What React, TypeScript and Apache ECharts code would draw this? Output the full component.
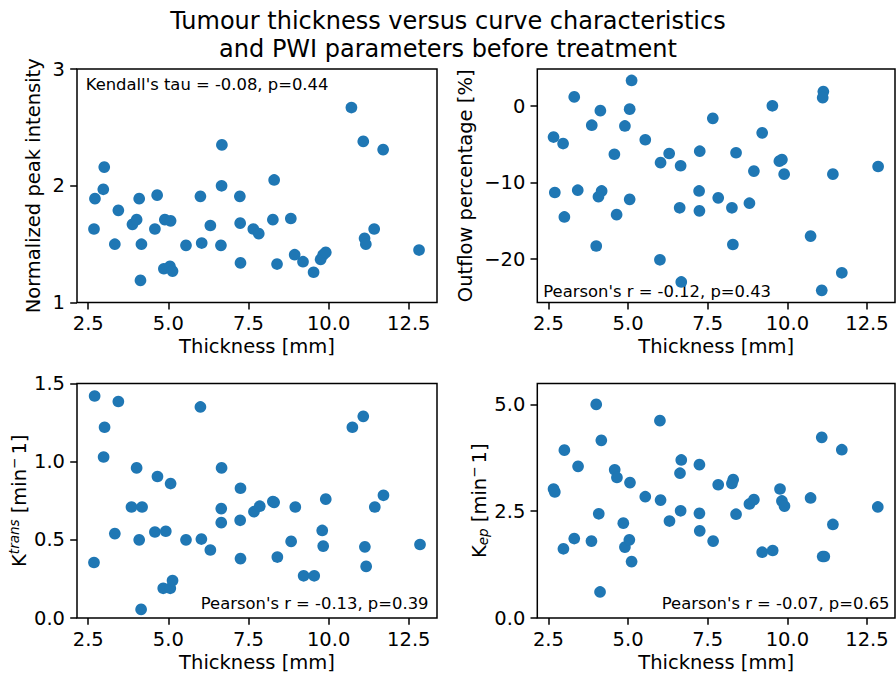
import React, { useEffect, useRef } from "react";
import * as echarts from "echarts";

// ---- data ----
const xTicks = [2.5, 5, 7.5, 10, 12.5];
const xRange = [2.15, 13.38];

const peakX = [10.71, 11.08, 11.7, 6.67, 3.0, 2.97, 2.71, 2.68, 3.44, 4.09, 4.65, 3.88, 4.01, 4.58, 3.33, 4.16, 4.13, 4.89, 5.07, 4.86, 5.05, 5.13, 5.55, 6.0, 6.04, 6.31, 6.66, 6.64, 7.23, 7.24, 7.25, 7.65, 7.82, 8.3, 8.26, 8.39, 8.82, 8.94, 9.2, 9.53, 9.75, 9.83, 9.91, 11.12, 11.16, 11.42, 12.82];
const peakY = [2.67, 2.38, 2.31, 2.35, 2.16, 1.97, 1.89, 1.63, 1.79, 1.89, 1.92, 1.67, 1.71, 1.63, 1.5, 1.5, 1.19, 1.71, 1.7, 1.29, 1.31, 1.27, 1.49, 1.91, 1.51, 1.66, 2.0, 1.49, 1.91, 1.68, 1.34, 1.63, 1.59, 2.05, 1.71, 1.33, 1.72, 1.41, 1.35, 1.26, 1.37, 1.41, 1.43, 1.55, 1.5, 1.63, 1.45];

const outflowX = [5.11, 11.13, 11.11, 3.31, 9.53, 4.13, 5.05, 7.66, 3.86, 4.9, 2.66, 2.96, 9.21, 5.54, 4.57, 6.29, 7.25, 8.39, 6.02, 6.65, 8.95, 9.75, 9.83, 9.9, 11.43, 12.85, 2.7, 3.42, 4.17, 4.07, 5.05, 3.0, 4.64, 6.62, 7.23, 7.24, 7.83, 8.26, 8.81, 4.0, 8.29, 6.0, 6.67, 10.73, 11.71, 11.08];
const outflowY = [3.35, 1.9, 1.1, 1.2, 0.04, -0.6, -0.4, -1.6, -2.5, -2.6, -4.05, -4.9, -3.5, -4.4, -6.3, -6.2, -5.9, -6.1, -7.4, -7.8, -8.5, -7.2, -7.0, -8.9, -8.9, -7.9, -11.3, -11.0, -11.1, -11.85, -12.2, -14.5, -14.2, -13.3, -11.1, -13.7, -12.0, -13.3, -12.7, -18.3, -18.1, -20.1, -23.0, -17.0, -21.8, -24.1];

const ktransX = [2.7, 3.44, 3.01, 2.98, 6.0, 4.01, 4.66, 5.07, 6.66, 7.25, 10.74, 11.08, 3.85, 4.18, 6.65, 6.65, 7.24, 7.67, 7.85, 8.3, 8.96, 9.91, 11.44, 11.71, 3.33, 4.09, 4.58, 4.92, 5.55, 6.03, 6.31, 7.25, 8.4, 8.83, 9.8, 9.83, 11.13, 11.17, 12.85, 2.68, 4.84, 5.06, 5.13, 4.15, 9.22, 9.55, 8.26];
const ktransY = [1.42, 1.385, 1.22, 1.03, 1.35, 0.96, 0.905, 0.86, 0.96, 0.83, 1.22, 1.29, 0.71, 0.71, 0.7, 0.61, 0.625, 0.68, 0.715, 0.74, 0.71, 0.76, 0.71, 0.785, 0.54, 0.5, 0.55, 0.555, 0.5, 0.505, 0.435, 0.38, 0.39, 0.49, 0.56, 0.46, 0.455, 0.33, 0.47, 0.355, 0.19, 0.19, 0.24, 0.055, 0.27, 0.27, 0.745];

const kepX = [4.0, 6.0, 4.16, 11.08, 3.0, 11.71, 3.43, 4.58, 4.65, 6.67, 6.63, 7.24, 5.06, 8.3, 8.26, 7.83, 2.66, 2.7, 5.54, 6.02, 9.77, 9.83, 9.91, 8.81, 8.95, 10.73, 12.84, 4.08, 6.65, 7.24, 8.39, 4.85, 6.3, 11.43, 7.25, 3.31, 3.85, 2.97, 4.9, 5.04, 7.67, 9.21, 9.54, 11.11, 5.11, 4.12, 11.16];
const kepY = [5.0, 4.62, 4.16, 4.23, 3.93, 3.94, 3.55, 3.47, 3.29, 3.7, 3.39, 3.59, 3.17, 3.24, 3.15, 3.12, 3.02, 2.95, 2.84, 2.76, 3.02, 2.74, 2.62, 2.67, 2.77, 2.81, 2.6, 2.44, 2.51, 2.45, 2.43, 2.22, 2.27, 2.19, 2.04, 1.86, 1.8, 1.62, 1.66, 1.83, 1.8, 1.54, 1.58, 1.44, 1.32, 0.61, 1.44];

const peakTicks = [1, 2, 3];
const outflowTicks = [-20, -10, 0];
const ktransTicks = [0, 0.5, 1.0, 1.5];
const kepTicks = [0, 2.5, 5.0];

const titleLines = ["Tumour thickness versus curve characteristics", "and PWI parameters before treatment"];
const statTexts = ["Kendall's tau = -0.08, p=0.44", "Pearson's r = -0.12, p=0.43", "Pearson's r = -0.13, p=0.39", "Pearson's r = -0.07, p=0.65"];

const FONT = "DejaVu Sans";
const BLUE = "#1f77b4";

function minusFmt(v: number, digits: number) {
  const s = Math.abs(v).toFixed(digits);
  return v < 0 ? "\u2212" + s : s;
}

export default function App() {
  const ref = useRef<HTMLDivElement>(null);
  useEffect(() => {
    if (!ref.current) return;
    const chart = echarts.init(ref.current, null, { renderer: "svg" });

    const grids = [
      { left: 77, top: 69, width: 360, height: 233.6 },
      { left: 537.3, top: 69, width: 357.7, height: 233.6 },
      { left: 77, top: 383.5, width: 360, height: 234.5 },
      { left: 537.3, top: 383.5, width: 357.7, height: 234.5 },
    ].map((g) => ({
      ...g,
      show: true,
      borderColor: "#000",
      borderWidth: 1.5,
      backgroundColor: "rgba(0,0,0,0)",
      containLabel: false,
    }));

    const tickStyle = { color: "#000", width: 1.5 };
    const labelStyle = { color: "#000", fontSize: 19.5, fontFamily: FONT };
    const nameStyle = {
      color: "#000",
      fontSize: 19.5,
      fontFamily: FONT,
      rich: {
        sup: { fontSize: 13.5, fontFamily: FONT, color: "#000", padding: [0, 3, 10, 0] },
        supi: { fontSize: 13.5, fontFamily: FONT, color: "#000", fontStyle: "italic", padding: [0, 0, 10, 0] },
        sub: { fontSize: 13.5, fontFamily: FONT, color: "#000", fontStyle: "italic", padding: [8, 0, 0, 0] },
      },
    };

    const xAxes = [0, 1, 2, 3].map((i) => ({
      type: "value",
      gridIndex: i,
      position: "bottom",
      min: xRange[0],
      max: xRange[1],
      axisLine: { show: false, onZero: false },
      axisTick: { show: true, inside: false, length: 6.8, lineStyle: tickStyle, customValues: xTicks },
      axisLabel: { ...labelStyle, margin: 11, customValues: xTicks, formatter: (v: number) => v.toFixed(1) },
      splitLine: { show: false },
      name: "Thickness [mm]",
      nameLocation: "middle",
      nameGap: 34,
      nameTextStyle: { color: "#000", fontSize: 19.5, fontFamily: FONT },
    }));

    const yDefs = [
      { min: 1, max: 3, ticks: peakTicks, fmt: (v: number) => String(v), name: "Normalized peak intensity", gap: 34 },
      { min: -25.7, max: 4.85, ticks: outflowTicks, fmt: (v: number) => minusFmt(v, 0), name: "Outflow percentage [%]", gap: 62 },
      { min: 0, max: 1.5, ticks: ktransTicks, fmt: (v: number) => v.toFixed(1), name: "K{supi|trans} [min{sup|\u2212}1]", gap: 46 },
      { min: 0, max: 5.49, ticks: kepTicks, fmt: (v: number) => v.toFixed(1), name: "K{sub|ep} [min{sup|\u2212}1]", gap: 46 },
    ];

    const yAxes = yDefs.map((d, i) => ({
      type: "value",
      gridIndex: i,
      position: "left",
      min: d.min,
      max: d.max,
      axisLine: { show: false, onZero: false },
      axisTick: { show: true, inside: false, length: 6.8, lineStyle: tickStyle, customValues: d.ticks },
      axisLabel: { ...labelStyle, margin: 12, customValues: d.ticks, formatter: d.fmt },
      splitLine: { show: false },
      name: d.name,
      nameLocation: "middle",
      nameRotate: 90,
      nameGap: d.gap,
      nameTextStyle: nameStyle,
    }));

    const sets = [
      [peakX, peakY],
      [outflowX, outflowY],
      [ktransX, ktransY],
      [kepX, kepY],
    ];
    const series = sets.map(([xs, ys], i) => ({
      type: "scatter",
      xAxisIndex: i,
      yAxisIndex: i,
      symbol: "circle",
      symbolSize: 11.7,
      itemStyle: { color: BLUE, opacity: 1 },
      data: xs.map((x, j) => [x, ys[j]]),
    }));

    const annStyle = { fill: "#000", fontSize: 16.4, fontFamily: FONT };
    const graphic = [
      { type: "text", x: 448, y: 21, style: { text: titleLines[0], fill: "#000", fontSize: 24, fontFamily: FONT, align: "center", verticalAlign: "middle" } },
      { type: "text", x: 448, y: 48.5, style: { text: titleLines[1], fill: "#000", fontSize: 24, fontFamily: FONT, align: "center", verticalAlign: "middle" } },
      { type: "text", x: 85.7, y: 84.5, style: { ...annStyle, text: statTexts[0], align: "left", verticalAlign: "middle" } },
      { type: "text", x: 543.3, y: 291, style: { ...annStyle, text: statTexts[1], align: "left", verticalAlign: "middle" } },
      { type: "text", x: 428.5, y: 603.5, style: { ...annStyle, text: statTexts[2], align: "right", verticalAlign: "middle" } },
      { type: "text", x: 889.5, y: 603.5, style: { ...annStyle, text: statTexts[3], align: "right", verticalAlign: "middle" } },
    ];

    chart.setOption({
      animation: false,
      backgroundColor: "#fff",
      textStyle: { fontFamily: FONT },
      grid: grids,
      xAxis: xAxes,
      yAxis: yAxes,
      series,
      graphic,
    } as any);

    return () => chart.dispose();
  }, []);

  return (
    <div
      ref={ref}
      style={{ position: "fixed", left: 0, top: 0, width: 896, height: 674, background: "#fff" }}
    />
  );
}
